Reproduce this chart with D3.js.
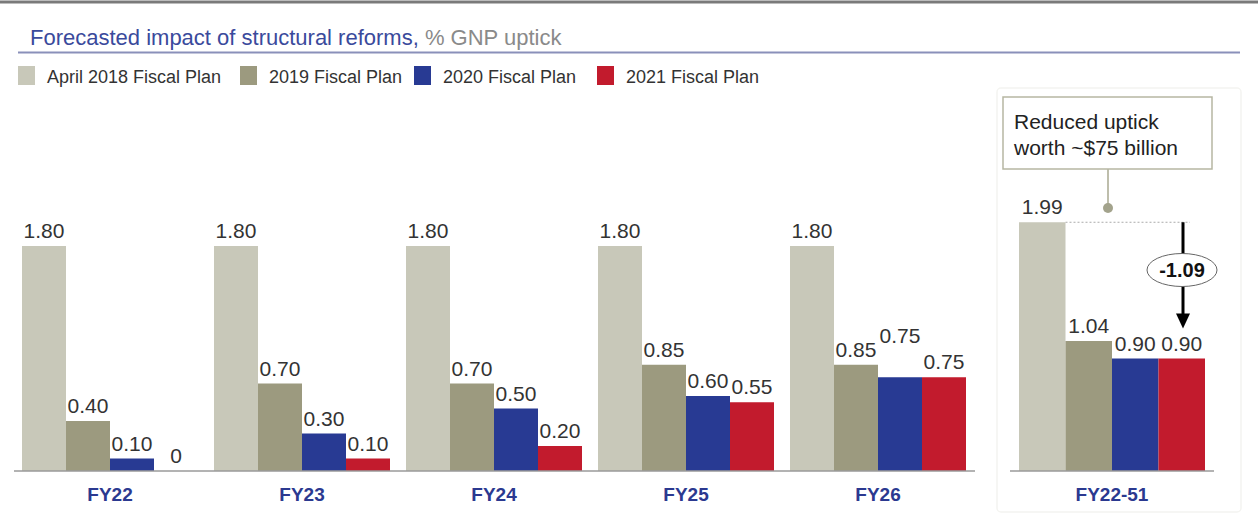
<!DOCTYPE html>
<html lang="en">
<head>
    <meta charset="UTF-8"/>
    <title>Structural reforms</title>
    <style>
        body { margin: 0; background: #fff; }
        svg { display: block; }
        text { font-family: "Liberation Sans", Arial, sans-serif; }
        .val { font-size: 21px; fill: #333; text-anchor: middle; }
        .cat { font-size: 19px; font-weight: bold; fill: #2b3990; text-anchor: middle; }
        .leg { font-size: 18px; fill: #333; }
    </style>
</head>
<body>
<svg width="1258" height="524"></svg>
<script src="https://d3js.org/d3.v7.min.js"></script>
<script>
    const series = ["April 2018 Fiscal Plan", "2019 Fiscal Plan", "2020 Fiscal Plan", "2021 Fiscal Plan"];
    const colors = ["#c8c8b9", "#9c9a7f", "#283a93", "#c21b2d"];
    const years = ["FY22", "FY23", "FY24", "FY25", "FY26"];
    const yearValues = [
        [1.80, 0.40, 0.10, 0],
        [1.80, 0.70, 0.30, 0.10],
        [1.80, 0.70, 0.50, 0.20],
        [1.80, 0.85, 0.60, 0.55],
        [1.80, 0.85, 0.75, 0.75]
    ];
    const totalLabel = "FY22-51";
    const totalValues = [1.99, 1.04, 0.90, 0.90];
    const deltaLabel = "-1.09";
    const noteLines = ["Reduced uptick", "worth ~$75 billion"];

    const svg = d3.select("svg");
    const fmt = v => v === 0 ? "0" : d3.format(".2f")(v);

    // header
    svg.append("line").attr("x1", 0).attr("x2", 1258).attr("y1", 2).attr("y2", 2)
        .attr("stroke", "#7a7a7a").attr("stroke-width", 3);
    const title = svg.append("text").attr("x", 30).attr("y", 45).style("font-size", "22px");
    title.append("tspan").attr("fill", "#3a4a9c").text("Forecasted impact of structural reforms,");
    title.append("tspan").attr("fill", "#8a8a8a").text(" % GNP uptick");
    svg.append("line").attr("x1", 18).attr("x2", 1240).attr("y1", 52.5).attr("y2", 52.5)
        .attr("stroke", "#8a90ba").attr("stroke-width", 2);

    // legend
    const legX = [18, 240, 414, 597];
    const leg = svg.append("g").selectAll("g").data(series).join("g")
        .attr("transform", (d, i) => `translate(${legX[i]},66)`);
    leg.append("rect").attr("width", 17).attr("height", 19).attr("fill", (d, i) => colors[i]);
    leg.append("text").attr("class", "leg").attr("x", 29).attr("y", 17).text(d => d);

    // scales
    const y = d3.scaleLinear().domain([0, 2]).range([471, 221]);
    const x0 = d3.scaleBand().domain(years).range([14, 974]).paddingInner(1 / 12).paddingOuter(1 / 24);
    const x1 = d3.scaleBand().domain(series).range([0, x0.bandwidth()]);
    const xt = d3.scaleBand().domain(series).range([1019, 1205]);

    // right panel frame
    svg.append("rect").attr("x", 997).attr("y", 88).attr("width", 244).attr("height", 424).attr("rx", 4)
        .attr("fill", "none").attr("stroke", "#f4f4f1").attr("stroke-width", 1.5);

    // year groups
    const groups = svg.append("g").selectAll("g").data(years).join("g")
        .attr("transform", d => `translate(${x0(d)},0)`);
    const cells = (d, gi) => series.map((s, i) => ({s, i, v: yearValues[gi][i], g: d}));
    groups.each(function (d, gi) {
        const g = d3.select(this);
        const data = cells(d, gi);
        g.selectAll("rect").data(data).join("rect")
            .attr("x", c => x1(c.s)).attr("width", x1.bandwidth())
            .attr("y", c => y(c.v)).attr("height", c => y(0) - y(c.v))
            .attr("fill", c => colors[c.i]);
        g.selectAll("text.val").data(data).join("text").attr("class", "val")
            .attr("x", c => x1(c.s) + x1.bandwidth() / 2)
            .attr("y", c => {
                // lift a label that would collide with its right neighbour of equal value
                const next = data[c.i + 1];
                const lift = next && next.v === c.v && c.i === 2 ? 26 : 0;
                return y(c.v) - 8 - lift;
            })
            .text(c => fmt(c.v));
        g.append("text").attr("class", "cat").attr("x", x0.bandwidth() / 2).attr("y", 501).text(d);
    });
    svg.append("line").attr("x1", 14).attr("x2", 975).attr("y1", y(0)).attr("y2", y(0))
        .attr("stroke", "#9a9a9a").attr("stroke-width", 1.5);

    // total panel
    const tot = series.map((s, i) => ({s, i, v: totalValues[i]}));
    svg.append("g").selectAll("rect").data(tot).join("rect")
        .attr("x", c => xt(c.s)).attr("width", xt.bandwidth())
        .attr("y", c => y(c.v)).attr("height", c => y(0) - y(c.v))
        .attr("fill", c => colors[c.i]);
    svg.append("g").selectAll("text").data(tot).join("text").attr("class", "val")
        .attr("x", c => xt(c.s) + xt.bandwidth() / 2).attr("y", c => y(c.v) - 8)
        .text(c => fmt(c.v));
    svg.append("line").attr("x1", 1010).attr("x2", 1214).attr("y1", y(0)).attr("y2", y(0))
        .attr("stroke", "#9a9a9a").attr("stroke-width", 1.5);
    svg.append("text").attr("class", "cat").attr("x", (1019 + 1205) / 2).attr("y", 501).text(totalLabel);

    // reduction annotation
    const topY = y(totalValues[0]);
    const ax = 1183;
    const tipY = y(totalValues[3]) - 30;
    svg.append("line").attr("x1", xt(series[1])).attr("x2", 1190).attr("y1", topY).attr("y2", topY)
        .attr("stroke", "#aaa").attr("stroke-width", 1).attr("stroke-dasharray", "2,2");
    svg.append("line").attr("x1", ax).attr("x2", ax).attr("y1", topY).attr("y2", tipY - 12)
        .attr("stroke", "#000").attr("stroke-width", 3);
    svg.append("path")
        .attr("d", `M${ax - 7},${tipY - 15} L${ax + 7},${tipY - 15} L${ax},${tipY} Z`)
        .attr("fill", "#000");
    svg.append("ellipse").attr("cx", ax - 1).attr("cy", 270).attr("rx", 35).attr("ry", 16.5)
        .attr("fill", "#fff").attr("stroke", "#666").attr("stroke-width", 1);
    svg.append("text").attr("x", ax - 1).attr("y", 277).attr("text-anchor", "middle")
        .style("font-size", "20px").style("font-weight", "bold").attr("fill", "#111").text(deltaLabel);

    // callout box
    svg.append("line").attr("x1", 1108).attr("x2", 1108).attr("y1", 169).attr("y2", 208)
        .attr("stroke", "#a8a890").attr("stroke-width", 1.5);
    svg.append("circle").attr("cx", 1108).attr("cy", 208).attr("r", 5).attr("fill", "#a3a38c");
    svg.append("rect").attr("x", 1003).attr("y", 97).attr("width", 209).attr("height", 72)
        .attr("fill", "#fff").attr("stroke", "#b6b6a2").attr("stroke-width", 1.5);
    svg.append("g").selectAll("text").data(noteLines).join("text")
        .attr("x", 1014).attr("y", (d, i) => 129 + i * 26)
        .style("font-size", "21px").attr("fill", "#222").text(d => d);
</script>
</body>
</html>
